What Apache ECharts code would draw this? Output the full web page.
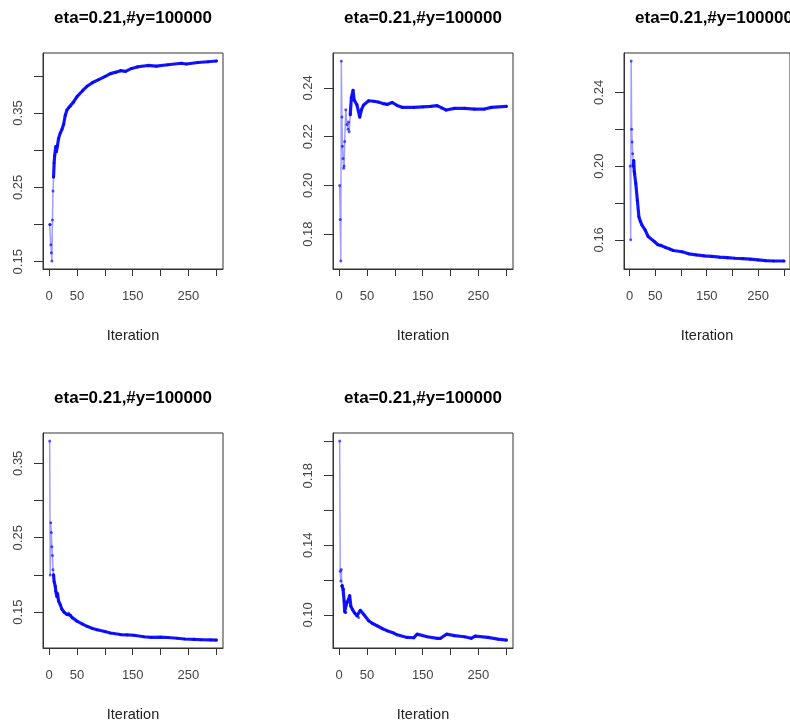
<!DOCTYPE html>
<html>
<head>
<meta charset="utf-8">
<script src="https://cdn.jsdelivr.net/npm/echarts@6/dist/echarts.min.js"></script>
<style>
html,body{margin:0;padding:0;background:#fff;}
#chart{width:790px;height:723px;}
</style>
</head>
<body>
<div id="chart"></div>
<script>
// ---- data ----
const panelTitle = "eta=0.21,#y=100000";
const xAxisTitle = "Iteration";
const xTickValues = [0, 50, 100, 150, 200, 250, 300];
const xLabelValues = [0, 50, 150, 250];

const series1 = [[1,0.200],[2,0.200],[3,0.173],[4,0.162],[5,0.151],[6,0.206],[7,0.245],[8,0.264],[9,0.283],[10,0.293],[12,0.305],[13,0.298],[15,0.306],[17,0.316],[20,0.323],[23,0.328],[26,0.335],[29,0.347],[32,0.354],[35,0.357],[38,0.359],[44,0.365],[50,0.372],[60,0.380],[68,0.386],[78,0.391],[89,0.395],[100,0.399],[110,0.403],[120,0.405],[128,0.407],[137,0.406],[148,0.410],[158,0.412],[177,0.414],[192,0.413],[213,0.415],[237,0.417],[246,0.416],[267,0.418],[285,0.419],[300,0.420]];
const series2 = [[1,0.200],[2,0.186],[3,0.169],[4,0.251],[5,0.228],[6,0.216],[7,0.211],[8,0.207],[9,0.208],[10,0.218],[12,0.231],[14,0.225],[16,0.223],[17,0.226],[18,0.222],[20,0.229],[22,0.236],[25,0.239],[27,0.235],[32,0.233],[37,0.228],[40,0.231],[44,0.233],[53,0.2347],[62,0.2345],[70,0.2342],[80,0.2335],[86,0.2332],[95,0.234],[104,0.2328],[113,0.232],[134,0.232],[150,0.2322],[164,0.2324],[176,0.2327],[184,0.2318],[192,0.2309],[207,0.2316],[225,0.2316],[243,0.2313],[261,0.2313],[273,0.232],[300,0.2324]];
const series3 = [[1,0.200],[2,0.160],[3,0.257],[4,0.220],[5,0.213],[6,0.2067],[7,0.200],[8,0.203],[9,0.197],[10,0.196],[12,0.1905],[15,0.1815],[18,0.1725],[21,0.170],[24,0.168],[30,0.1654],[36,0.1618],[48,0.1591],[55,0.1573],[60,0.157],[70,0.1558],[78,0.155],[85,0.1542],[102,0.1535],[115,0.1524],[130,0.1518],[145,0.1513],[160,0.151],[175,0.1506],[190,0.1503],[205,0.150],[220,0.1498],[235,0.1495],[250,0.1491],[265,0.1487],[280,0.1485],[300,0.1485]];
const series4 = [[1,0.380],[2,0.200],[3,0.270],[4,0.257],[5,0.238],[6,0.226],[7,0.207],[8,0.200],[9,0.191],[11,0.185],[12,0.178],[14,0.171],[15,0.175],[17,0.165],[20,0.160],[23,0.154],[27,0.150],[32,0.147],[35,0.149],[38,0.146],[41,0.143],[50,0.138],[60,0.134],[68,0.131],[78,0.128],[86,0.1265],[100,0.124],[110,0.122],[128,0.120],[140,0.1195],[152,0.119],[170,0.117],[183,0.1162],[200,0.1165],[213,0.116],[230,0.115],[243,0.114],[260,0.1135],[273,0.113],[290,0.1128],[300,0.1126]];
const series5 = [[1,0.200],[2,0.125],[3,0.1194],[4,0.126],[5,0.1166],[6,0.117],[7,0.115],[8,0.1146],[9,0.108],[10,0.102],[11,0.1013],[12,0.1013],[14,0.107],[17,0.109],[19,0.111],[21,0.105],[24,0.103],[28,0.101],[32,0.0994],[35,0.0985],[38,0.1026],[44,0.1003],[53,0.0966],[60,0.095],[68,0.0937],[78,0.092],[86,0.0909],[98,0.0895],[104,0.0885],[122,0.087],[134,0.0868],[140,0.0889],[158,0.0874],[176,0.0865],[182,0.0865],[193,0.0889],[207,0.088],[225,0.0874],[237,0.0865],[244,0.0878],[267,0.087],[285,0.086],[300,0.0855]];

const yTicks1 = [0.15,0.20,0.25,0.30,0.35,0.40], yLabels1 = [0.15,0.25,0.35];
const yTicks2 = [0.18,0.20,0.22,0.24],            yLabels2 = [0.18,0.20,0.22,0.24];
const yTicks3 = [0.16,0.18,0.20,0.22,0.24],       yLabels3 = [0.16,0.20,0.24];
const yTicks4 = [0.15,0.20,0.25,0.30,0.35],       yLabels4 = [0.15,0.25,0.35];
const yTicks5 = [0.10,0.12,0.14,0.16,0.18,0.20],  yLabels5 = [0.10,0.14,0.18];

// ---- layout / style ----
const panels = [
  {data: series1, yt: yTicks1, yl: yLabels1, left: 43,  top: 53,  w: 180, h: 216, denseFrom: 8},
  {data: series2, yt: yTicks2, yl: yLabels2, left: 333, top: 53,  w: 180, h: 216, denseFrom: 20},
  {data: series3, yt: yTicks3, yl: yLabels3, left: 624, top: 53,  w: 180, h: 216, denseFrom: 7},
  {data: series4, yt: yTicks4, yl: yLabels4, left: 43,  top: 433, w: 180, h: 218, denseFrom: 8},
  {data: series5, yt: yTicks5, yl: yLabels5, left: 333, top: 433, w: 180, h: 218, denseFrom: 5}
];
const FONT = "Liberation Sans";
const INK = "#333";

function padRange(vals){
  const mn = Math.min.apply(null, vals), mx = Math.max.apply(null, vals);
  const r = mx - mn;
  return [mn - 0.04*r, mx + 0.04*r];
}

const grids = [], xAxes = [], yAxes = [], seriesList = [], graphics = [];
panels.forEach((p, i) => {
  grids.push({left: p.left, top: p.top, width: p.w, height: p.h, show: true,
              borderColor: INK, borderWidth: 1, backgroundColor: 'transparent', containLabel: false});
  const xr = padRange(p.data.map(d => d[0]));
  const yr = padRange(p.data.map(d => d[1]));
  xAxes.push({type: 'value', gridIndex: i, min: xr[0], max: xr[1],
    name: xAxisTitle, nameLocation: 'middle', nameGap: 59,
    nameTextStyle: {fontFamily: FONT, fontSize: 14.5, color: '#222'},
    axisLine: {show: true, onZero: false, lineStyle: {color: INK, width: 1}},
    axisTick: {show: true, inside: false, length: 7, customValues: xTickValues, lineStyle: {color: INK}},
    axisLabel: {show: true, margin: 21, customValues: xLabelValues, fontFamily: FONT, fontSize: 13, color: '#444',
                showMinLabel: true, showMaxLabel: true},
    splitLine: {show: false}});
  yAxes.push({type: 'value', gridIndex: i, min: yr[0], max: yr[1],
    axisLine: {show: true, onZero: false, lineStyle: {color: INK, width: 1}},
    axisTick: {show: true, inside: false, length: 9, customValues: p.yt, lineStyle: {color: INK}},
    axisLabel: {show: true, rotate: 90, margin: 18, customValues: p.yl, fontFamily: FONT, fontSize: 13, color: '#444',
                formatter: v => Number(v).toFixed(2)},
    splitLine: {show: false}});
  // full trace: thin translucent line with small points
  seriesList.push({type: 'line', xAxisIndex: i, yAxisIndex: i, data: p.data,
    symbol: 'circle', symbolSize: 3, showSymbol: true, animation: false, silent: true,
    lineStyle: {color: 'rgba(40,40,255,0.45)', width: 1.5},
    itemStyle: {color: 'rgba(0,0,255,0.65)', borderWidth: 0}});
  // dense part: points overlap into a thick solid band
  seriesList.push({type: 'line', xAxisIndex: i, yAxisIndex: i,
    data: p.data.filter(d => d[0] >= p.denseFrom),
    symbol: 'none', animation: false, silent: true,
    lineStyle: {color: 'rgba(0,0,255,0.9)', width: 3.2, cap: 'round', join: 'round'}});
  graphics.push({type: 'text', x: p.left + p.w/2, y: p.top - 35,
    style: {text: panelTitle, font: 'bold 17px "' + FONT + '"', fill: '#000',
            align: 'center', textAlign: 'center', verticalAlign: 'middle', textVerticalAlign: 'middle'}});
});

const chart = echarts.init(document.getElementById('chart'), null, {renderer: 'canvas'});
chart.setOption({
  backgroundColor: '#fff',
  animation: false,
  grid: grids,
  xAxis: xAxes,
  yAxis: yAxes,
  series: seriesList,
  graphic: graphics
});
</script>
</body>
</html>
